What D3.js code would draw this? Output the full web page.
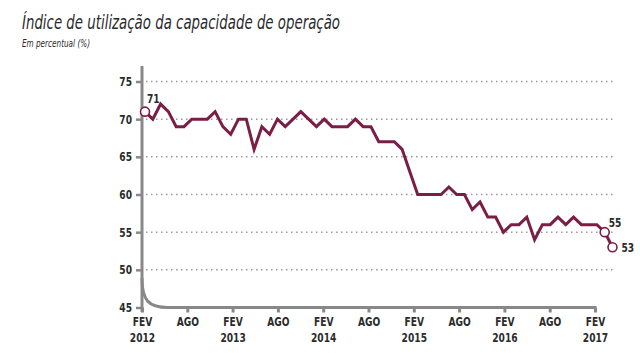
<!DOCTYPE html>
<meta charset="utf-8">
<style>
body { margin: 0; background: #fff; }
svg text { font-family: "DejaVu Sans", sans-serif; fill: #2b2b2b; }
.title { font-size: 19px; font-style: italic; }
.subtitle { font-size: 10px; font-style: italic; }
.lab { font-size: 12px; font-weight: bold; }
.grid { stroke: #9a9a9a; stroke-width: 1.5; stroke-dasharray: 1.5,3.5; }
.axisline { stroke: #888; stroke-width: 3; fill: none; }
.line { fill: none; stroke: #7a1e45; stroke-width: 3; stroke-linejoin: miter; }
</style>
<body>
<script src="https://d3js.org/d3.v7.min.js"></script>
<script>

// monthly values, FEV 2012 .. FEV 2017
var values = [71, 70, 72, 71, 69, 69, 70, 70, 70, 71, 69, 68,
              70, 70, 66, 69, 68, 70, 69, 70, 71, 70, 69, 70,
              69, 69, 69, 70, 69, 69, 67, 67, 67, 66, 63, 60,
              60, 60, 60, 61, 60, 60, 58, 59, 57, 57, 55, 56,
              56, 57, 54, 56, 56, 57, 56, 57, 56, 56, 56, 55,
              53];
var yTicks = [45, 50, 55, 60, 65, 70, 75];
var gridValues = [50, 55, 60, 65, 70, 75];
var tickMonths = [0, 6, 12, 18, 24, 30, 36, 42, 48, 54, 60];
var tickMonthLabels = ["FEV", "AGO", "FEV", "AGO", "FEV", "AGO", "FEV", "AGO", "FEV", "AGO", "FEV"];
var tickYearLabels = ["2012", "", "2013", "", "2014", "", "2015", "", "2016", "", "2017"];
var labelled = [0, 59, 60]; // points with circle + value

var width = 640, height = 360;
var squeeze = 0.76; // narrow the labels, the original uses a condensed face

var svg = d3.select("body").append("svg")
    .attr("width", width)
    .attr("height", height);

svg.append("text").attr("class", "title")
    .attr("x", 22).attr("y", 29)
    .attr("textLength", 318).attr("lengthAdjust", "spacingAndGlyphs")
    .text("Índice de utilização da capacidade de operação");
svg.append("text").attr("class", "subtitle")
    .attr("x", 22).attr("y", 47)
    .attr("textLength", 68).attr("lengthAdjust", "spacingAndGlyphs")
    .text("Em percentual (%)");

// scales
var y = d3.scaleLinear().domain([45, 75]).range([307.5, 81.5]);
var x = d3.scaleLinear().domain([0, values.length - 1]).range([145, 612.5]);   // data
var xa = d3.scaleLinear().domain([0, 60]).range([142, 595]);                   // axis ticks

// gridlines
svg.selectAll(".grid")
    .data(gridValues)
    .enter().append("line")
    .attr("class", "grid")
    .attr("x1", 146).attr("x2", 613)
    .attr("y1", function (d) { return y(d); })
    .attr("y2", function (d) { return y(d); });

// Y axis
var yAxis = svg.append("g")
    .attr("transform", "translate(142,0)")
    .call(d3.axisLeft(y).tickValues(yTicks).tickSize(6).tickPadding(4));
yAxis.select(".domain").remove();
yAxis.selectAll(".tick line").attr("stroke", "#888").attr("stroke-width", 2.5);
yAxis.selectAll(".tick text")
    .attr("class", "lab")
    .attr("font-family", null).attr("font-size", null).attr("fill", null)
    .attr("x", null)
    .attr("transform", "translate(-10,0) scale(" + squeeze + ",1)");

// X axis ticks
var xAxis = svg.append("g")
    .attr("transform", "translate(0,307.5)")
    .call(d3.axisBottom(xa).tickValues(tickMonths).tickSize(5).tickFormat(""));
xAxis.select(".domain").remove();
xAxis.selectAll(".tick line").attr("stroke", "#888").attr("stroke-width", 3);
xAxis.selectAll(".tick").append("text")
    .attr("class", "lab")
    .attr("text-anchor", "middle")
    .attr("transform", "translate(0,18) scale(" + squeeze + ",1)")
    .text(function (d, i) { return tickMonthLabels[i]; });
xAxis.selectAll(".tick").append("text")
    .attr("class", "lab")
    .attr("text-anchor", "middle")
    .attr("transform", "translate(0,34) scale(" + squeeze + ",1)")
    .text(function (d, i) { return tickYearLabels[i]; });

// axis lines: vertical, curved corner, baseline
svg.append("line").attr("class", "axisline")
    .attr("x1", 142).attr("x2", 142).attr("y1", 66).attr("y2", 312);
svg.append("path").attr("class", "axisline")
    .attr("d", "M142,278 C142,301 149,307.5 168,307.5 L596.5,307.5");

// the series
var line = d3.line()
    .x(function (d, i) { return x(i); })
    .y(function (d) { return y(d); });

svg.append("path")
    .datum(values)
    .attr("class", "line")
    .attr("d", line);

svg.selectAll(".pt")
    .data(labelled)
    .enter().append("circle")
    .attr("class", "pt")
    .attr("cx", function (i) { return x(i); })
    .attr("cy", function (i) { return y(values[i]); })
    .attr("r", 4.5)
    .attr("fill", "#fff")
    .attr("stroke", "#7a1e45")
    .attr("stroke-width", 1.6);

var labelOffsets = [[2, -9], [4, -5], [9, 5]];
svg.selectAll(".vlab")
    .data(labelled)
    .enter().append("text")
    .attr("class", "lab")
    .attr("transform", function (i, k) {
        return "translate(" + (x(i) + labelOffsets[k][0]) + "," + (y(values[i]) + labelOffsets[k][1]) +
            ") scale(" + squeeze + ",1)";
    })
    .text(function (i) { return values[i]; });

</script>
</body>
